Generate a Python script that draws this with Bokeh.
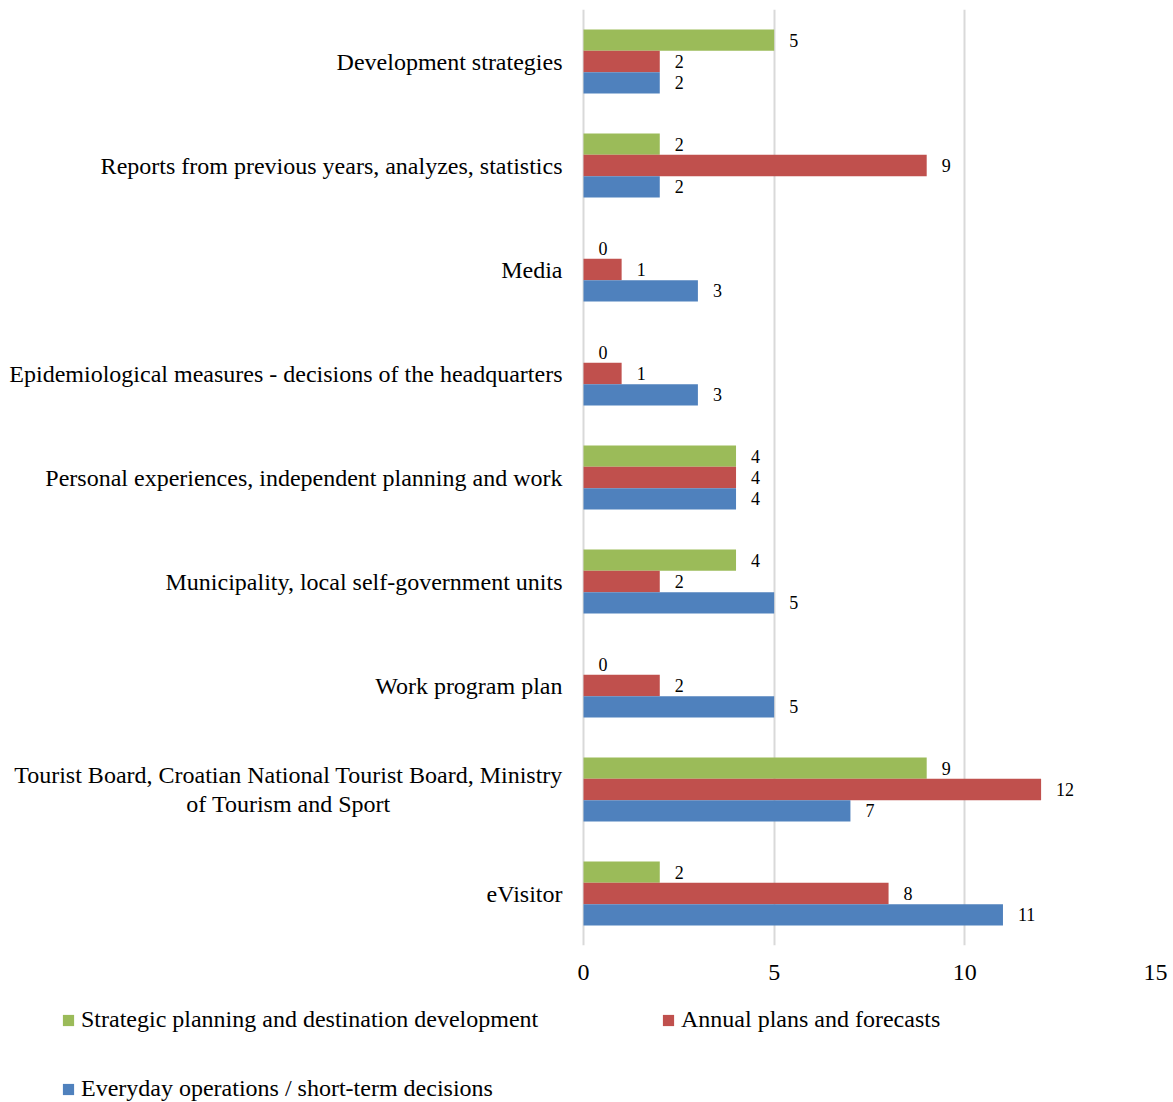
from bokeh.plotting import figure
from bokeh.layouts import column
from bokeh.models import ColumnDataSource, Range1d, FactorRange, Legend, LegendItem, FixedTicker
from bokeh.transform import dodge
from bokeh.embed import file_html
from bokeh.resources import INLINE

categories = [
    "Development strategies",
    "Reports from previous years, analyzes, statistics",
    "Media",
    "Epidemiological measures - decisions of the headquarters",
    "Personal experiences, independent planning and work",
    "Municipality, local self-government units",
    "Work program plan",
    "Tourist Board, Croatian National Tourist Board, Ministry\nof Tourism and Sport",
    "eVisitor",
]
strategic = [5, 2, 0, 0, 4, 4, 0, 9, 2]
annual = [2, 9, 1, 1, 4, 2, 2, 12, 8]
everyday = [2, 2, 3, 3, 4, 5, 5, 7, 11]
series_names = [
    "Strategic planning and destination development",
    "Annual plans and forecasts",
    "Everyday operations / short-term decisions",
]
colors = ["#9BBB59", "#C0504D", "#4F81BD"]
x_ticks = [0, 5, 10, 15]

FONT = "Liberation Serif"

# layout constants (pixels)
LEFT_PX = 583      # position of x = 0
FRAME_W = 1155     # right edge of plot area
X_MAX = 15
px_per_unit = (FRAME_W - LEFT_PX) / X_MAX
x_start = -LEFT_PX / px_per_unit

src = ColumnDataSource(dict(
    cat=categories,
    strategic=strategic, annual=annual, everyday=everyday,
    s_lbl=[str(v) for v in strategic],
    a_lbl=[str(v) for v in annual],
    e_lbl=[str(v) for v in everyday],
    zero=[0] * len(categories),
    align=["center" if "\n" in c else "right" for c in categories],
    xoff=[-295 if "\n" in c else -21 for c in categories],
))

p = figure(
    width=1173, height=995,
    y_range=FactorRange(factors=list(reversed(categories)), range_padding=0),
    x_range=Range1d(x_start, X_MAX),
    y_axis_location=None,
    output_backend="svg", toolbar_location=None,
    min_border_left=0, min_border_right=1173 - FRAME_W, min_border_top=9, min_border_bottom=50,
)
p.outline_line_color = None

bh = 0.205
renderers = []
for col, lbl, off, c in [("strategic", "s_lbl", bh, colors[0]),
                         ("annual", "a_lbl", 0.0, colors[1]),
                         ("everyday", "e_lbl", -bh, colors[2])]:
    r = p.hbar(y=dodge("cat", off, range=p.y_range), right=col, left=0, height=bh,
               source=src, fill_color=c, line_color=None)
    renderers.append(r)
    p.text(x=col, y=dodge("cat", off, range=p.y_range), text=lbl, source=src,
           x_offset=15, text_align="left", text_baseline="middle",
           text_font={"value": FONT}, text_font_size={"value": "18px"}, text_color="#000000")

# category labels
p.text(x="zero", y="cat", text="cat", source=src,
       x_offset="xoff", text_align="align", text_baseline="middle",
       text_line_height=1.1,
       text_font={"value": FONT}, text_font_size={"value": "24px"}, text_color="#000000")

p.xgrid.ticker = FixedTicker(ticks=x_ticks)
p.xgrid.grid_line_color = "#D9D9D9"
p.xgrid.grid_line_width = 2
p.ygrid.grid_line_color = None

p.xaxis.ticker = FixedTicker(ticks=x_ticks)
p.xaxis.axis_line_color = None
p.xaxis.major_tick_line_color = None
p.xaxis.minor_tick_line_color = None
p.xaxis.major_tick_out = 0
p.xaxis.major_label_standoff = 19
p.xaxis.major_label_text_font = FONT
p.xaxis.major_label_text_font_size = "24px"
p.xaxis.major_label_text_color = "#000000"

# legend panel
lg = figure(width=1173, height=107, x_range=Range1d(0, 1), y_range=Range1d(0, 1),
            x_axis_location=None, y_axis_location=None,
            output_backend="svg", toolbar_location=None,
            min_border_left=0, min_border_right=0, min_border_top=0, min_border_bottom=0)
lg.grid.visible = False
lg.outline_line_color = None
dummy = ColumnDataSource(dict(y=[-5], right=[0]))
leg_r = [lg.hbar(y="y", right="right", left=0, height=0.1, source=dummy,
                 fill_color=c, line_color=None) for c in colors]

legend = Legend(
    items=[LegendItem(label=series_names[i], renderers=[leg_r[i]]) for i in range(3)],
    orientation="horizontal", ncols=2, location=(61, 0),
    glyph_width=14, glyph_height=14, label_standoff=6, label_width=538, label_height=26,
    spacing=42, padding=0, margin=0,
    label_text_font=FONT, label_text_font_size="24px", label_text_color="#000000",
    border_line_color=None, background_fill_alpha=0,
)
lg.add_layout(legend)

layout = column(p, lg, spacing=0)
open("out.html", "w").write(file_html(layout, INLINE))
